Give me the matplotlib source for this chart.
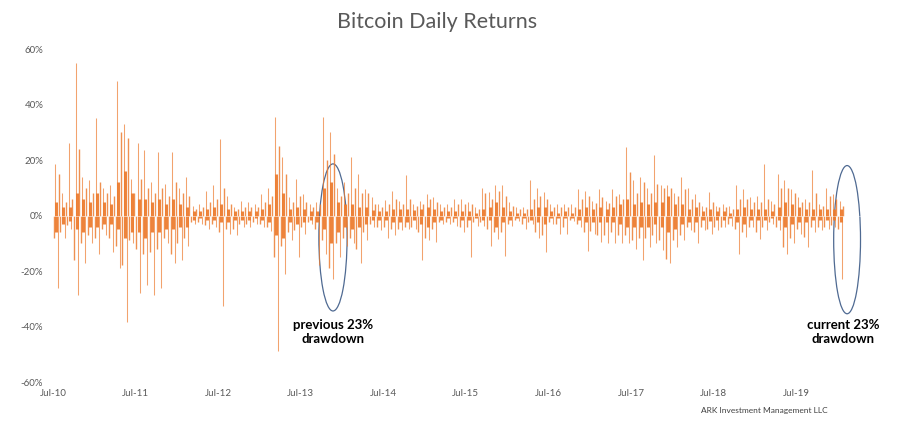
import matplotlib.pyplot as plt
from matplotlib.patches import Ellipse
import numpy as np

# monthly readings of the daily return chart, Jul-10 .. Jan-20 (in %)
# largest up day, largest down day, second largest of each, and the dense core band
up = [18.4, 8, 26, 55, 14, 12.7, 35, 10, 11, 48.5, 33, 13, 26, 23.5, 12, 23,
      11.5, 23, 10, 14, 3.5, 4, 9, 11, 27.5, 7, 3, 5.4, 5, 4, 7.8, 10,
      35.5, 21, 6.6, 13, 7.8, 4, 5, 35.5, 30, 10, 12, 21, 15, 9.6, 6.6, 4,
      5.7, 9, 5.4, 14.5, 4.2, 5.4, 7.8, 6.6, 4, 4, 6, 6, 5, 3, 10, 8.4,
      11, 11, 5, 3, 3, 12.7, 10, 8.4, 4, 4, 4.2, 4, 9.6, 9, 5.4, 9.6,
      5.4, 9.6, 7.8, 24.7, 12.7, 14, 10, 21.7, 11, 11, 8, 13.9, 10, 7.8, 3.6, 8.4,
      3.6, 4.2, 3.6, 11, 9.6, 6.6, 7.2, 18.4, 5.4, 15, 12.7, 9.6, 6.6, 6, 16.3, 4.2,
      10, 7.8, 5.4]
dn = [-26, -8, -5, -28.5, -17, -10, -14, -7, -13, -19, -38.5, -10, -28, -25, -28.5, -26,
      -10, -17, -16, -11, -3, -3, -5, -4, -32.5, -6.6, -7, -4, -4, -3, -4, -5.5,
      -48.8, -21, -9, -15, -6.6, -3, -18, -14, -23, -15, -11, -10, -17, -9, -4, -5.4,
      -8, -7.2, -5.4, -5, -5, -16, -9, -9.6, -3, -3, -3.6, -6, -15, -3.6, -3.6, -11,
      -8.4, -14.5, -3.6, -2, -5, -3, -8, -13, -3, -6.6, -6.6, -2, -4, -12.7, -6.6, -9.6,
      -10, -10, -10, -10, -12, -16, -11.4, -10, -12.6, -17, -11.4, -9, -5.4, -10, -5.4, -6.6,
      -5.4, -4.2, -3.6, -14, -7.8, -4.2, -8.4, -5.4, -3, -5.4, -13.9, -10, -6.6, -11.4, -6, -5.4,
      -4.8, -4.2, -22.7]
up2 = [15, 5, 6, 24, 10, 8, 12, 8, 7, 30, 28, 8, 13, 10, 8, 10,
       7, 12, 8, 7, 2.5, 3, 5, 6, 10, 4, 2.5, 3, 3, 3, 5, 7,
       25, 15, 5, 7, 5, 3, 4, 20, 22, 7, 8, 10, 8, 8, 4, 3,
       4, 6, 4, 6, 3.5, 4, 6, 5, 3, 3, 4, 4, 4, 2.5, 8, 6,
       9, 7, 3.5, 2.5, 2.5, 6, 7, 6, 3, 3, 3, 3, 6, 7, 4.5, 6.6,
       4.5, 7, 6, 15.7, 8, 12, 8, 11.4, 10, 10, 7, 9.6, 6, 5, 3, 5,
       3, 3, 2.5, 6, 6, 5, 5, 6, 4, 10, 10, 8, 5, 5, 8, 3.5,
       7, 6, 3.6]
dn2 = [-8, -6, -3.5, -16, -10, -7, -8, -5, -8, -11, -18, -9, -12, -14, -13, -12,
       -8, -14, -10, -8, -2.5, -2.5, -3.5, -3, -6, -5, -5, -3, -3, -2.5, -3, -4,
       -15, -11, -6, -5.4, -4, -2.5, -5, -9, -19, -10, -8, -8, -12, -6, -3, -4,
       -4, -5, -5, -4, -4, -6, -8, -5, -2.5, -2.5, -2.5, -4, -4, -2.5, -2.5, -5,
       -6, -6, -3, -1.5, -3, -2.5, -6, -7, -2.5, -3, -4, -1.5, -3, -6, -5.5, -7,
       -7, -6, -7, -7, -9, -8, -8, -7, -9, -15.7, -9, -7, -4, -6, -4, -5,
       -4, -4, -3, -5, -6, -4, -6, -4, -2.5, -4, -11.4, -8, -5, -7.8, -4, -4,
       -4, -3.5, -4.8]
core_up = [5, 3, 3, 8, 6, 5, 8, 5, 4, 12, 16, 8, 6, 6, 5, 6,
           4, 6, 4, 3, 1.5, 1.5, 2.5, 3, 4, 2.5, 1.5, 1.5, 1.5, 1.5, 2.5, 4,
           15, 8, 2.5, 3, 2.5, 1.5, 1.5, 10, 12, 5, 4, 4, 3, 3, 2, 1.5,
           1.5, 2.5, 2.5, 2.5, 2, 2.5, 3, 2.5, 1.5, 1.5, 1.5, 1.5, 1.5, 1, 2.5, 3,
           5, 3, 1.5, 1, 1, 2.5, 3, 3, 1.5, 1, 1.5, 1, 2.5, 3, 2.5, 3,
           2.5, 3, 4, 6, 4, 5, 4, 5, 5, 7, 4, 4, 2.5, 3, 1.5, 2.5,
           1.5, 1.5, 1, 2.5, 3, 2.5, 2.5, 2.5, 1.5, 3, 5, 4, 3, 2.5, 2.5, 2.5,
           2.5, 2.5, 2.5]
core_dn = [-6, -3, -2, -5, -6, -4, -4, -3, -3, -5, -8, -6, -6, -8, -6, -6,
           -5, -5, -4, -4, -1.5, -1, -1.5, -1.5, -2.5, -2.5, -1.5, -1.5, -1.5, -1, -1.5, -2.5,
           -7, -8, -2.5, -3, -2.5, -1.5, -2.5, -5, -10, -6, -4, -5, -4, -3, -1.5, -1.5,
           -1.5, -2.5, -2.5, -2.5, -1.5, -3, -4, -2.5, -1.5, -1, -1, -1.5, -1.5, -1, -1.5, -1.5,
           -4, -2.5, -1.5, -1, -1, -1.5, -2.5, -3, -1, -1, -1, -1, -1.5, -2.5, -2.5, -2.5,
           -2.5, -2.5, -3, -4, -4, -4, -4, -3, -4, -6, -5, -3, -2.5, -2.5, -1.5, -2,
           -1.5, -1.5, -1, -2.5, -3, -1.5, -1.5, -1.5, -1, -1.5, -4, -3, -2.5, -2.5, -1.5, -1.5,
           -1.5, -1.5, -2.5]

tick_labels = ["Jul-10", "Jul-11", "Jul-12", "Jul-13", "Jul-14",
               "Jul-15", "Jul-16", "Jul-17", "Jul-18", "Jul-19"]

orange = "#ED7D31"
grey = "#595959"

months = np.arange(len(up))

fig = plt.figure(figsize=(9, 4.21), dpi=100)
ax = fig.add_axes([0.0511, 0.0926, 0.91, 0.791])

# dense band of small moves, drawn as thick day-bars
ax.vlines(months + 0.45, 0, core_up, color=orange, lw=2.2, alpha=0.95)
ax.vlines(months + 0.45, 0, core_dn, color=orange, lw=2.2, alpha=0.95)
# individual large days
ax.vlines(months + 0.3, 0, up, color=orange, lw=0.75, alpha=0.7)
ax.vlines(months + 0.7, 0, dn, color=orange, lw=0.75, alpha=0.7)
ax.vlines(months + 0.85, 0, up2, color=orange, lw=1.0, alpha=0.85)
ax.vlines(months + 0.1, 0, dn2, color=orange, lw=1.0, alpha=0.85)
ax.axhline(0, color="white", lw=0.4, alpha=0.7)

ax.set_xlim(-1, 118)
ax.set_ylim(-60, 60)
ax.set_yticks(np.arange(-60, 61, 20))
ax.set_yticklabels([f"{v}%" for v in range(-60, 61, 20)])
ax.set_xticks(np.arange(0, 109, 12))
ax.set_xticklabels(tick_labels)
ax.tick_params(length=0, labelsize=7, labelcolor=grey)
ax.tick_params(axis="y", pad=2)
ax.tick_params(axis="x", pad=5)
for s in ax.spines.values():
    s.set_visible(False)
for lab in ax.get_xticklabels() + ax.get_yticklabels():
    lab.set_family("Lato")

# circled drawdowns
ax.add_patch(Ellipse((40.7, -7.9), 4.1, 53, fill=False, ec="#4F6A92", lw=0.9))
ax.add_patch(Ellipse((115.4, -8.7), 3.9, 53.4, fill=False, ec="#4F6A92", lw=0.9))
ax.text(40.7, -42, "previous 23%\ndrawdown", ha="center", va="center",
        fontsize=9.5, fontweight="bold", family="Lato", linespacing=1.25)
ax.text(114.8, -42, "current 23%\ndrawdown", ha="center", va="center",
        fontsize=9.5, fontweight="bold", family="Lato", linespacing=1.25)

fig.text(0.486, 0.947, "Bitcoin Daily Returns", ha="center", va="center",
         fontsize=15.5, color=grey, family="Lato")
fig.text(0.92, 0.024, "ARK Investment Management LLC", ha="right", va="center",
         fontsize=6, color="#404040", family="Lato")

fig.savefig("out.png", dpi=100)
